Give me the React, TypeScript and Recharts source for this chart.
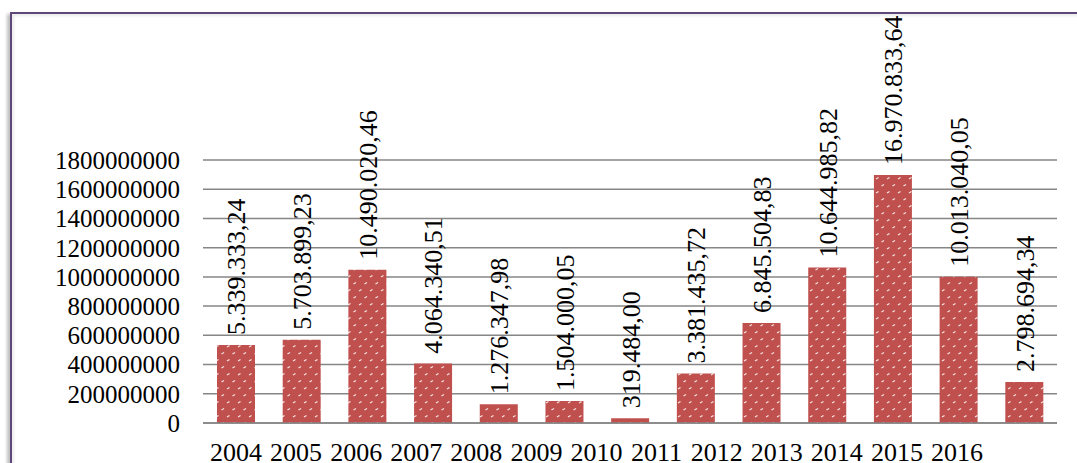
import { BarChart, Bar, XAxis, YAxis, CartesianGrid, LabelList } from 'recharts';

const years = ['2004', '2005', '2006', '2007', '2008', '2009', '2010', '2011', '2012', '2013', '2014', '2015', '2016'];
const values = [
  533933324, 570389923, 1049002046, 406434051, 127634798, 150400005, 31948400,
  338143572, 684550483, 1064498582, 1697083364, 1001304005, 279869434,
];
const yTicks = [0, 200000000, 400000000, 600000000, 800000000, 1000000000, 1200000000, 1400000000, 1600000000, 1800000000];

const data = values.map((v, i) => ({ idx: i, value: v }));
const yearTicks = years.map((_, i) => i);

const FONT = 'Liberation Serif';

// 533933324 -> "5.339.333,24"
function fmt(v: number) {
  const [int, dec] = (v / 100).toFixed(2).split('.');
  return int.replace(/\B(?=(\d{3})+(?!\d))/g, '.') + ',' + dec;
}

function BarLabel(props: any) {
  const { x, y, width, value } = props;
  const cx = x + width / 2;
  const ty = y - 10;
  return (
    <text
      x={cx}
      y={ty}
      transform={`rotate(-90 ${cx} ${ty})`}
      textAnchor="start"
      dy="0.36em"
      style={{ fontFamily: FONT, fontSize: 26 }}
      fill="#000"
    >
      {fmt(value)}
    </text>
  );
}

export default function App() {
  return (
    <div style={{ position: 'absolute', left: 0, top: 0, width: 1077, height: 463, background: '#fff', overflow: 'hidden', fontFamily: FONT }}>
      <div
        style={{
          position: 'absolute',
          left: 10,
          top: 12,
          width: 1200,
          height: 600,
          borderTop: '2px solid #5F497A',
          borderLeft: '2px solid #5F497A',
          boxShadow: '-3px 2px 3px rgba(0,0,0,0.25), inset 2px 2px 3px rgba(0,0,0,0.08)',
        }}
      />
      <div style={{ position: 'absolute', left: 0, top: 0 }}>
        <BarChart width={1077} height={463} data={data} margin={{ top: 160, right: 20, bottom: 0, left: 10 }}>
          <defs>
            <pattern id="dash" width="11" height="14" patternUnits="userSpaceOnUse">
              <rect width="11" height="14" fill="#C0504D" />
              <path d="M1.5 4 L4 2.6" stroke="#fff" strokeWidth="1.2" strokeOpacity="0.85" />
              <path d="M7 11 L9.5 9.6" stroke="#fff" strokeWidth="1.2" strokeOpacity="0.85" />
            </pattern>
          </defs>
          <CartesianGrid vertical={false} xAxisId="cat" stroke="#868686" strokeWidth={1.5} />
          <XAxis xAxisId="cat" dataKey="idx" type="category" hide height={0} />
          {/* year labels are packed tighter than the bars in the original:
              first under bar 1, last under bar 12 */}
          <XAxis
            xAxisId="yr"
            dataKey="idx"
            type="number"
            domain={[0, 12]}
            ticks={yearTicks}
            interval={0}
            padding={{ left: 33, right: 100 }}
            tickFormatter={(v: number) => years[v]}
            height={40}
            tickSize={0}
            tickMargin={20}
            axisLine={{ stroke: '#868686', strokeWidth: 1.5 }}
            tick={{ style: { fontFamily: FONT, fontSize: 26 }, fill: '#000' }}
          />
          <YAxis
            domain={[0, 1800000000]}
            ticks={yTicks}
            interval={0}
            width={193}
            axisLine={false}
            tickLine={false}
            tickSize={0}
            tickMargin={23}
            tick={{ style: { fontFamily: FONT, fontSize: 25 }, fill: '#000' }}
          />
          <Bar xAxisId="cat" dataKey="value" fill="url(#dash)" barSize={38} isAnimationActive={false}>
            <LabelList dataKey="value" content={BarLabel} />
          </Bar>
        </BarChart>
      </div>
    </div>
  );
}
